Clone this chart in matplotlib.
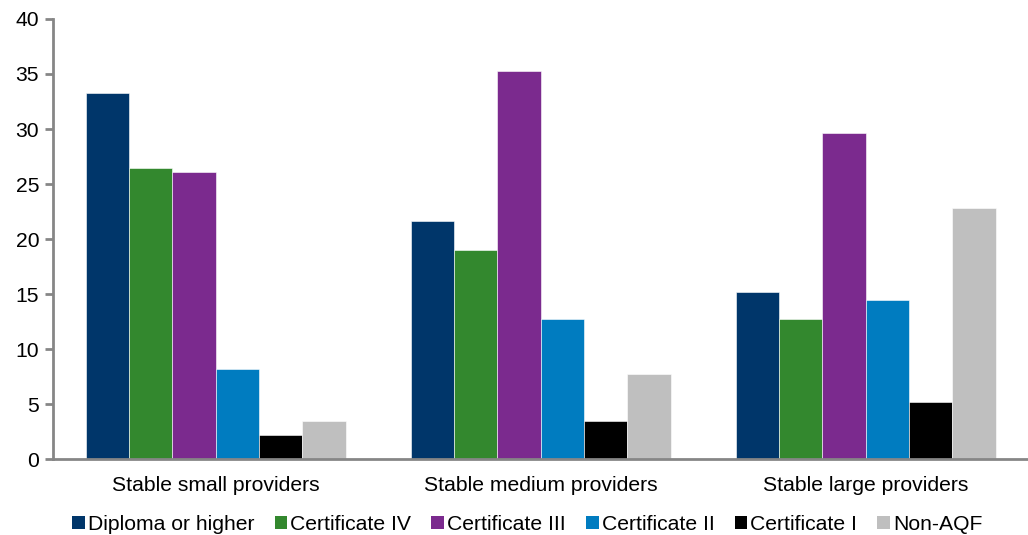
import numpy as np
import matplotlib.pyplot as plt
from matplotlib.patches import Patch

plt.rcParams['font.family'] = ['Liberation Sans', 'DejaVu Sans']

# Data to plot
groups = ['Stable small providers', 'Stable medium providers', 'Stable large providers']
series = ['Diploma or higher', 'Certificate IV', 'Certificate III',
          'Certificate II', 'Certificate I', 'Non-AQF']
diploma = [33.3, 21.6, 15.2]
cert_iv = [26.5, 19.0, 12.7]
cert_iii = [26.1, 35.3, 29.6]
cert_ii = [8.2, 12.7, 14.5]
cert_i = [2.2, 3.5, 5.2]
non_aqf = [3.5, 7.7, 22.8]
values = [diploma, cert_iv, cert_iii, cert_ii, cert_i, non_aqf]
colors = ['#00366A', '#33882E', '#7B2A8E', '#007CC0', '#000000', '#BFBFBF']

fig = plt.figure(figsize=(10.28, 5.35), dpi=100)
ax = fig.add_axes([0.0516, 0.142, 0.9484, 0.8225])

index = np.arange(len(groups))
bar_width = 0.8 / len(series)
for i, (vals, c) in enumerate(zip(values, colors)):
    ax.bar(index - 0.4 + bar_width * (i + 0.5), vals, bar_width,
           color=c, edgecolor='white', linewidth=0.4, label=series[i])

ax.set_xlim(-0.5, 2.5)
ax.set_ylim(0, 40)
ax.set_yticks(np.arange(0, 41, 5))
ax.set_xticks(index)
ax.set_xticklabels(groups, fontsize=15.2)
ax.tick_params(axis='y', labelsize=15.2, color='#868686', length=6, width=2, pad=4)
ax.tick_params(axis='x', length=0, pad=12)
for s in ['top', 'right']:
    ax.spines[s].set_visible(False)
for s in ['left', 'bottom']:
    ax.spines[s].set_color('#868686')
    ax.spines[s].set_linewidth(2)

handles = [Patch(facecolor=c, edgecolor='none') for c in colors]
fig.legend(handles, series, loc='lower center', bbox_to_anchor=(0.513, -0.033),
           ncol=6, frameon=False, fontsize=15.2, handlelength=0.6, handleheight=0.6,
           handletextpad=0.15, columnspacing=0.95)

fig.savefig('out.png', dpi=100)
